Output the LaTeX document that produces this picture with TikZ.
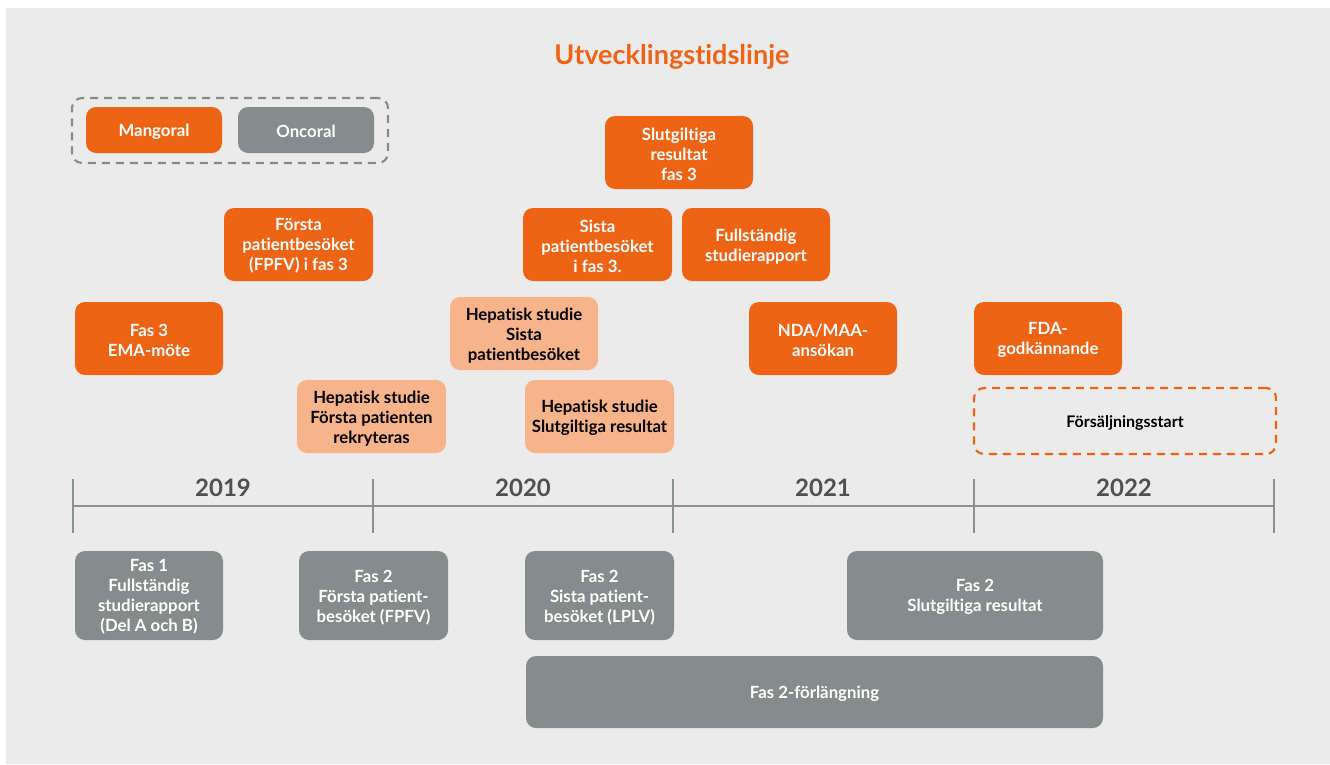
\documentclass[tikz,border=0pt]{standalone}
\usepackage{fontspec}
\setmainfont{Lato}[Ligatures=NoCommon]
\definecolor{bg}{HTML}{EBEBEB}
\definecolor{org}{HTML}{EF6414}
\definecolor{lorg}{HTML}{F7B48A}
\definecolor{gbox}{HTML}{858C8B}
\definecolor{yeartxt}{HTML}{505050}
\definecolor{tline}{HTML}{8A9190}
\newcommand\bx[7]{%
  \node[#2, minimum width={(#5-#3)*0.75pt}, minimum height={(#6-#4)*0.75pt}] (#1) at ({(#3+#5)/2},{(#4+#6)/2}) {};
  \node[#2, fill=none, draw=none, inner sep=0pt] (#1-t) at ([yshift=-1.3pt]#1.center) {#7};}
\begin{document}
\begin{tikzpicture}[x={(0.75pt,0)}, y={(0,-0.75pt)},
  base/.style={rounded corners=7.5pt, inner sep=0pt, align=center, font=\fontsize{12.6pt}{15pt}\selectfont\bfseries},
  obox/.style={base, fill=org, text=white},
  lbox/.style={base, fill=lorg, text=black},
  gbx/.style={base, fill=gbox, text=white},
  gdash/.style={draw=gbox, line width=1.6pt, dash pattern=on 6pt off 4.5pt, rounded corners=7.5pt, inner sep=0pt},
  odash/.style={base, draw=org, line width=1.6pt, dash pattern=on 6pt off 4.5pt, text=black, font=\fontsize{12pt}{14pt}\selectfont\bfseries},
  year/.style={font=\fontsize{18pt}{20pt}\selectfont\bfseries, text=yeartxt},
  axis/.style={draw=tline, line width=1.8pt}]
\useasboundingbox (0,0) rectangle (1330,764);
\fill[bg] (6,8) rectangle (1330,764);
\node[font=\fontsize{20.3pt}{24pt}\selectfont\bfseries, text=org] (title) at (672,57) {Utvecklingstidslinje};
% legend
\bx{grp}{gdash}{72}{98}{388}{163}{}
\bx{mang}{obox}{86}{107}{222}{153}{Mangoral}
\bx{onco}{gbx}{238}{107}{374}{153}{Oncoral}
% upper boxes
\bx{slut3}{obox}{605}{116}{753}{189}{Slutgiltiga\\resultat\\fas 3}
\bx{forsta}{obox}{224}{208}{373}{281}{Första\\patientbesöket\\(FPFV) i fas 3}
\bx{sista}{obox}{523}{208}{672}{281}{Sista\\patientbesöket\\i fas 3.}
\bx{fullst}{obox}{682}{208}{830}{281}{Fullständig\\studierapport}
\bx{ema}{obox}{75}{302}{223}{375}{Fas 3\\EMA-möte}
\bx{hepsista}{lbox}{450}{297}{598}{370}{Hepatisk studie\\Sista\\patientbesöket}
\bx{nda}{obox}{749}{302}{897}{375}{NDA/MAA-\\ansökan}
\bx{fda}{obox}{974}{302}{1122}{375}{FDA-\\godkännande}
\bx{hepforsta}{lbox}{297}{380}{446}{453}{Hepatisk studie\\Första patienten\\rekryteras}
\bx{hepslut}{lbox}{525}{380}{674}{453}{Hepatisk studie\\Slutgiltiga resultat}
\bx{forsalj}{odash}{974}{388}{1276}{454}{Försäljningsstart}
% timeline
\coordinate (a0) at (73,506);
\coordinate (a1) at (373,506);
\coordinate (a2) at (673,506);
\coordinate (a3) at (974,506);
\coordinate (a4) at (1274,506);
\draw[axis] (a0) -- (a4);
\foreach \i in {0,...,4}{\draw[axis] ([yshift=20.25pt]a\i) -- ([yshift=-20.25pt]a\i);}
\node[year] (y2019) at (223,488) {2019};
\node[year] (y2020) at (523,488) {2020};
\node[year] (y2021) at (823,488) {2021};
\node[year] (y2022) at (1124,488) {2022};
% lower boxes
\bx{fas1}{gbx}{75}{551}{223}{640}{Fas 1\\Fullständig\\studierapport\\(Del A och B)}
\bx{fpfv}{gbx}{299}{551}{448}{640}{Fas 2\\Första patient-\\besöket (FPFV)}
\bx{lplv}{gbx}{525}{551}{674}{640}{Fas 2\\Sista patient-\\besöket (LPLV)}
\bx{f2slut}{gbx}{847}{551}{1103}{640}{Fas 2\\Slutgiltiga resultat}
\bx{forl}{gbx}{526}{656}{1103}{728}{Fas 2-förlängning}
\end{tikzpicture}
\end{document}
